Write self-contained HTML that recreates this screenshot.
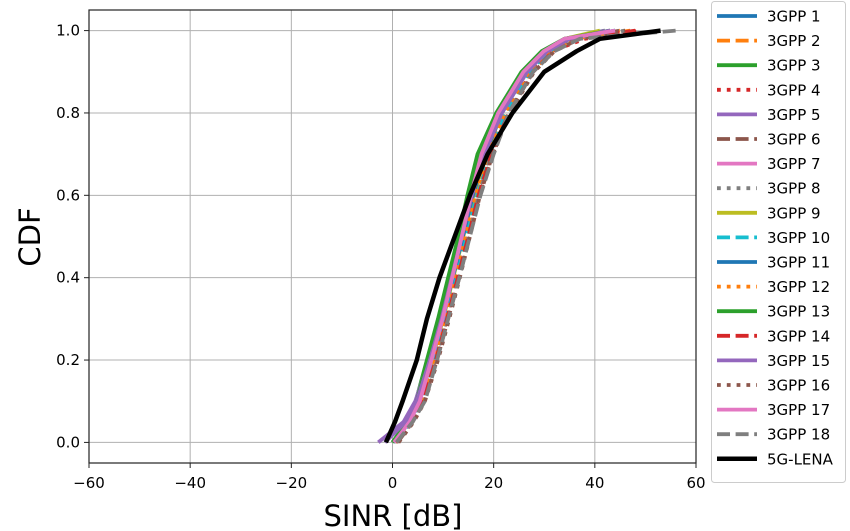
<!DOCTYPE html>
<html><head><meta charset="utf-8">
<style>
html,body{margin:0;padding:0;background:#fff;}
svg{display:block;font-family:"DejaVu Sans","Liberation Sans",sans-serif;}
</style></head>
<body>
<svg id="chart" width="850" height="531" viewBox="0 0 850 531">
  <g id="grid"></g>
  <g id="series"></g>
  <rect x="89" y="10" width="607" height="453" fill="none" stroke="#222" stroke-width="1.2"/>
  <g id="xticks"></g>
  <g id="yticks"></g>
  <text x="393" y="526" font-size="29" text-anchor="middle" fill="#000">SINR [dB]</text>
  <text x="0" y="0" font-size="29" text-anchor="middle" fill="#000" transform="translate(40,237) rotate(-90)">CDF</text>
  <g id="legend"></g>
</svg>
<script>
const quantiles = [0, 0.05, 0.1, 0.2, 0.3, 0.4, 0.5, 0.6, 0.7, 0.8, 0.9, 0.95, 0.98, 1.0];
const seriesNames = ["3GPP 1","3GPP 2","3GPP 3","3GPP 4","3GPP 5","3GPP 6","3GPP 7","3GPP 8","3GPP 9","3GPP 10","3GPP 11","3GPP 12","3GPP 13","3GPP 14","3GPP 15","3GPP 16","3GPP 17","3GPP 18","5G-LENA"];
const s1  = [0.0, 3.0, 5.0, 7.5, 9.8, 11.8, 13.8, 15.8, 18.2, 21.5, 26.5, 30.5, 35, 44];
const s2  = [0.5, 3.5, 5.5, 8.0, 10.3, 12.3, 14.3, 16.5, 19.0, 22.5, 27.5, 31.5, 36, 47];
const s3  = [0.0, 2.8, 4.6, 6.8, 9.0, 11.0, 13.0, 14.8, 16.8, 20.5, 25.5, 29.5, 34, 42];
const s4  = [0.8, 3.8, 6.0, 8.5, 10.8, 12.8, 15.0, 17.0, 19.5, 23.0, 27.5, 31.5, 38, 49];
const s5  = [-2.8, 2.2, 4.5, 7.2, 9.6, 11.6, 13.6, 15.6, 18.0, 21.5, 26.5, 30.5, 35, 42];
const s6  = [1.0, 4.0, 6.2, 8.8, 11.0, 13.2, 15.2, 17.2, 19.8, 23.0, 27.8, 31.5, 36, 45];
const s7  = [0.2, 3.2, 5.2, 7.6, 9.8, 11.8, 13.6, 15.4, 17.5, 20.8, 25.8, 29.8, 34, 43];
const s8  = [0.6, 3.8, 5.8, 8.4, 10.6, 12.6, 14.6, 16.6, 19.2, 22.6, 27.6, 31.6, 36, 46];
const s9  = [0.3, 3.3, 5.3, 7.8, 10.0, 12.0, 14.0, 16.0, 18.4, 21.6, 26.2, 30.0, 34, 41];
const s10 = [0.4, 3.6, 5.6, 8.2, 10.4, 12.4, 14.6, 16.8, 19.4, 22.4, 27.0, 31.0, 35, 44];
const s11 = [0.1, 3.1, 5.1, 7.6, 9.9, 11.9, 13.9, 15.9, 18.3, 21.6, 26.6, 30.4, 35, 43];
const s12 = [0.5, 3.6, 5.6, 8.1, 10.3, 12.3, 14.3, 16.3, 18.8, 22.2, 27.0, 31.0, 36, 45];
const s13 = [0.0, 2.9, 4.8, 7.0, 9.2, 11.2, 13.2, 15.0, 17.0, 20.6, 25.6, 29.6, 34, 43];
const s14 = [0.7, 3.9, 6.0, 8.6, 10.8, 12.9, 15.0, 17.0, 19.6, 23.0, 27.8, 31.8, 37, 48];
const s15 = [-1.5, 2.6, 4.8, 7.4, 9.7, 11.7, 13.7, 15.7, 18.1, 21.6, 26.6, 30.6, 35, 43];
const s16 = [1.2, 4.2, 6.4, 9.0, 11.2, 13.3, 15.3, 17.3, 19.8, 23.2, 28.0, 32.0, 37, 46];
const s17 = [0.3, 3.4, 5.4, 7.7, 9.9, 11.8, 13.7, 15.5, 17.6, 20.9, 25.9, 29.9, 34, 44];
const s18 = [0.8, 4.0, 6.4, 8.8, 11.0, 13.2, 15.3, 17.4, 20.0, 23.0, 27.8, 32.0, 37, 56];
const lena = [-1.3, 0.5, 2.0, 4.8, 6.8, 9.3, 12.3, 15.3, 18.8, 23.7, 30.0, 36.4, 41, 53];
const seriesValues = [s1,s2,s3,s4,s5,s6,s7,s8,s9,s10,s11,s12,s13,s14,s15,s16,s17,s18,lena];
const xTickValues = [-60, -40, -20, 0, 20, 40, 60];
const xTickLabels = ["\u221260", "\u221240", "\u221220", "0", "20", "40", "60"];
const yTickValues = [0, 0.2, 0.4, 0.6, 0.8, 1.0];
const yTickLabels = ["0.0", "0.2", "0.4", "0.6", "0.8", "1.0"];

const colors = ["#1f77b4","#ff7f0e","#2ca02c","#d62728","#9467bd","#8c564b","#e377c2","#7f7f7f","#bcbd22","#17becf"];
const styles = ["solid","dashed","solid","dotted"];
const LW = 3.8;
const dashFor = s => s==="dashed" ? "13,5.6" : s==="dotted" ? "3.8,6" : "";

const X0=89, X1=696, Y0=463, Y1=10;
const xMin=-60, xMax=60, yMin=-0.05, yMax=1.05;
const sx = v => X0 + (v - xMin) / (xMax - xMin) * (X1 - X0);
const sy = v => Y0 - (v - yMin) / (yMax - yMin) * (Y0 - Y1);
const NS = "http://www.w3.org/2000/svg";
function mk(tag, attrs, parent){ const e=document.createElementNS(NS,tag); for(const k in attrs) e.setAttribute(k,attrs[k]); parent.appendChild(e); return e; }

const grid=document.getElementById('grid'), xt=document.getElementById('xticks'), yt=document.getElementById('yticks');
xTickValues.forEach((v,i)=>{
  const gl=mk('line',{x1:sx(v),x2:sx(v),y1:Y1,y2:Y0,stroke:'#b0b0b0','stroke-width':1},grid);
  
  
  const tk=mk('line',{x1:sx(v),x2:sx(v),y1:Y0,y2:Y0+5,stroke:'#222','stroke-width':1},xt);
  
  
  const t=mk('text',{x:sx(v),y:Y0+25,'font-size':15,'text-anchor':'middle',fill:'#000'},xt);
  t.textContent=xTickLabels[i];
  
  
});
yTickValues.forEach((v,i)=>{
  const gl=mk('line',{x1:X0,x2:X1,y1:sy(v),y2:sy(v),stroke:'#b0b0b0','stroke-width':1},grid);
  
  
  const tk=mk('line',{x1:X0-5,x2:X0,y1:sy(v),y2:sy(v),stroke:'#222','stroke-width':1},yt);
  
  
  const t=mk('text',{x:X0-9,y:sy(v)+5,'font-size':15,'text-anchor':'end',fill:'#000'},yt);
  t.textContent=yTickLabels[i];
  
  
});

const sg=document.getElementById('series'), lg=document.getElementById('legend');
const box=mk('rect',{x:711.5,y:1.5,width:134,height:481,rx:3,fill:'#fff',stroke:'#ccc','stroke-width':1},lg);


seriesValues.forEach((arr,i)=>{
  const isLena = i===seriesValues.length-1;
  const color = isLena ? "#000" : colors[i%10];
  const style = isLena ? "solid" : styles[i%4];
  const d = arr.map((x,j)=>(j?'L':'M')+sx(x).toFixed(1)+','+sy(quantiles[j]).toFixed(1)).join(' ');
  const p=mk('path',{d:d,fill:'none',stroke:color,'stroke-width':isLena?4.5:LW,'stroke-linejoin':'round'},sg);
  if(style!=="solid") p.setAttribute('stroke-dasharray',dashFor(style));
  
  
  const ly = 16 + i*24.6;
  const ll=mk('line',{x1:717,x2:757,y1:ly,y2:ly,stroke:color,'stroke-width':isLena?4.5:LW},lg);
  if(style!=="solid") ll.setAttribute('stroke-dasharray',dashFor(style));
  
  
  const lt=mk('text',{x:767,y:ly+5.5,'font-size':15,fill:'#000'},lg);
  lt.textContent=seriesNames[i];
  
  
});
</script>
</body></html>
